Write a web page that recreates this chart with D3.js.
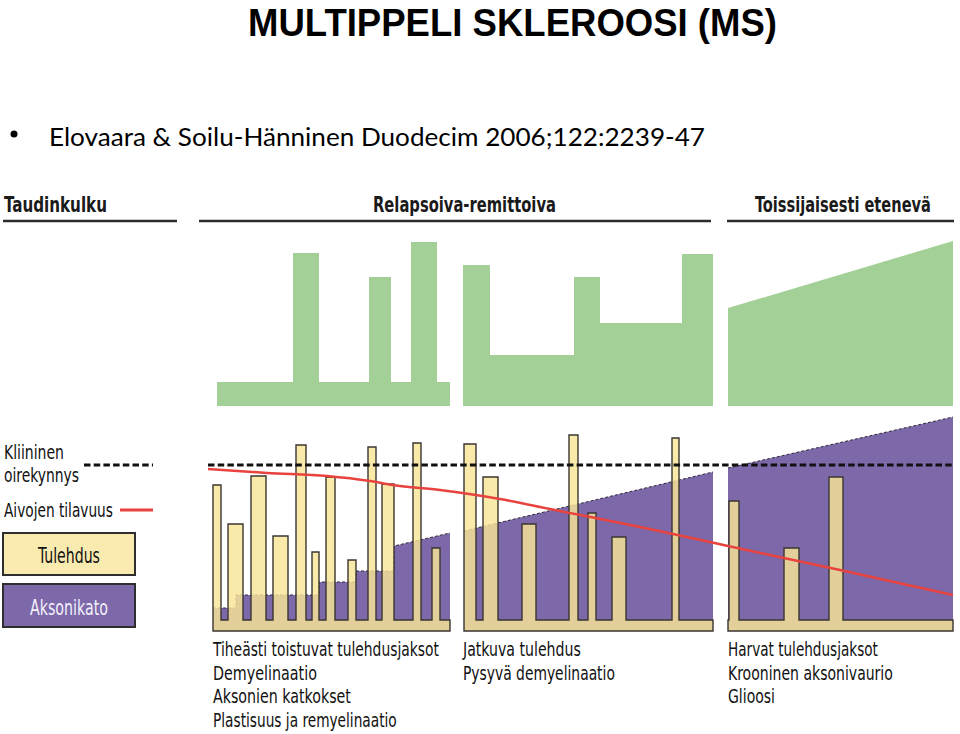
<!DOCTYPE html>
<html>
  <head>
    <meta charset="utf-8">
    <script src="https://d3js.org/d3.v7.min.js" type="text/javascript"></script>
    <style>
      body { margin: 0; background: #fff; }
      .narrow { font-family: 'Liberation Sans Narrow', 'DejaVu Sans Condensed', 'Arial Narrow', sans-serif; fill: #111; }
      .head { font-weight: bold; fill: #1a1a1a; }
    </style>
  </head>
  <body>
    <script>

      // time axis is arbitrary units (0 = start of the course)
      var sectionSpans = [[5, 242], [256, 505], [520, 745]];
      var stripLevel = 11;
      var thresholdLevel = 166;

      // inflammation episodes: [start, end, level]
      var barsRelapsing1 = [[5, 13, 146], [20, 35, 107], [43, 58, 155], [65, 80, 95], [88, 98, 186], [104, 111, 79],
                            [118, 127, 154], [140, 148, 71], [160, 168, 184], [174, 186, 147], [205, 213, 188], [224, 232, 83]];
      var barsRelapsing2 = [[256, 268, 187], [275, 290, 154], [314, 328, 107], [361, 370, 196], [380, 388, 118],
                            [404, 418, 94], [464, 471, 193]];
      var barsProgressive = [[521, 531, 130], [576, 591, 83], [621, 635, 154]];

      // axonal loss top boundary: [time, level]
      var axonRelapsing1 = [[5, 23], [28, 23], [28, 36], [111, 36], [111, 49], [148, 49], [148, 60], [186, 60], [186, 85], [242, 98]];
      var axonRelapsing2 = [[256, 100], [505, 159]];
      var axonProgressive = [[520, 163], [745, 214]];

      // brain volume
      var brainVolume = [[0, 162], [59, 158], [119, 155], [162, 150], [185, 146], [232, 141], [292, 132],
                         [342, 122], [465, 97], [520, 85], [632, 61], [745, 36]];

      // clinical activity (green): [start, end, level]
      var greenRelapsing1 = [[9, 85, 24], [85, 111, 153], [111, 161, 24], [161, 183, 129], [183, 203, 24], [203, 229, 164], [229, 242, 24]];
      var greenRelapsing2 = [[255, 282, 141], [282, 366, 51], [366, 392, 129], [392, 474, 83], [474, 505, 152]];
      var greenProgressive = [[520, 98], [745, 165]];

      var headers = [
        {text: "Taudinkulku", x: 4, len: 103, line: [3, 177]},
        {text: "Relapsoiva-remittoiva", x: 373, len: 183, line: [199, 711]},
        {text: "Toissijaisesti etenevä", x: 755, len: 176, line: [727, 954]}
      ];

      var notes = [
        {x: 213, lines: ["Tiheästi toistuvat tulehdusjaksot", "Demyelinaatio", "Aksonien katkokset", "Plastisuus ja remyelinaatio"], lens: [226, 104, 138, 184]},
        {x: 463, lines: ["Jatkuva tulehdus", "Pysyvä demyelinaatio"], lens: [118, 152]},
        {x: 728, lines: ["Harvat tulehdusjaksot", "Krooninen aksonivaurio", "Glioosi"], lens: [150, 165, 47]}
      ];

      var width = 960, height = 734;

      var x = d3.scaleLinear().domain([0, 745]).range([208, 953]);
      var yG = d3.scaleLinear().domain([0, 165]).range([406, 241]);
      var yL = d3.scaleLinear().domain([0, 214]).range([631, 417]);

      var svg = d3.select("body").append("svg")
          .attr("width", width)
          .attr("height", height);

      // condensed text: shrink the font to the wanted width, stretch it back up vertically
      function fitText(parent, cls, str, tx, ty, w, size) {
        var t = parent.append("text").attr("class", cls).style("font-size", size + "px").text(str);
        var fs = size * w / t.node().getComputedTextLength();
        t.style("font-size", fs + "px")
            .attr("transform", "translate(" + tx + "," + ty + ") scale(1," + (size / fs) + ")");
        return t;
      }

      // title
      svg.append("text")
          .attr("x", 248).attr("y", 36)
          .attr("textLength", 529).attr("lengthAdjust", "spacingAndGlyphs")
          .style("font-family", "'Liberation Sans', Arial, sans-serif")
          .style("font-weight", "bold").style("font-size", "39px")
          .text("MULTIPPELI SKLEROOSI (MS)");

      svg.append("circle").attr("cx", 14).attr("cy", 134).attr("r", 3.5).style("fill", "#000");
      svg.append("text")
          .attr("x", 49).attr("y", 146)
          .attr("textLength", 656).attr("lengthAdjust", "spacingAndGlyphs")
          .style("font-family", "Lato, 'Open Sans', sans-serif")
          .style("font-size", "25px")
          .text("Elovaara & Soilu-Hänninen Duodecim 2006;122:2239-47");

      // section headers
      headers.forEach(function(h) {
        fitText(svg, "narrow head", h.text, h.x, 212, h.len, 21);
        svg.append("line")
            .attr("x1", h.line[0]).attr("x2", h.line[1])
            .attr("y1", 221).attr("y2", 221)
            .style("stroke", "#2b2b2b").style("stroke-width", 2.5);
      });

      // green panel
      function stepPoints(segs) {
        var pts = [];
        segs.forEach(function(s) { pts.push([s[0], s[2]]); pts.push([s[1], s[2]]); });
        return pts;
      }
      var greenArea = d3.area()
          .x(function(d) { return x(d[0]); })
          .y0(yG(0))
          .y1(function(d) { return yG(d[1]); });

      svg.selectAll(".green")
          .data([stepPoints(greenRelapsing1), stepPoints(greenRelapsing2), greenProgressive])
          .enter().append("path")
          .attr("class", "green")
          .attr("d", greenArea)
          .style("fill", "#a3d096");

      // axonal loss
      var axonArea = d3.area()
          .x(function(d) { return x(d[0]); })
          .y0(yL(0))
          .y1(function(d) { return yL(d[1]); });
      var axonTop = d3.line()
          .x(function(d) { return x(d[0]); })
          .y(function(d) { return yL(d[1]); });
      var axonData = [axonRelapsing1, axonRelapsing2, axonProgressive];

      svg.selectAll(".axon")
          .data(axonData)
          .enter().append("path")
          .attr("class", "axon")
          .attr("d", axonArea)
          .style("fill", "#7d68aa");
      svg.selectAll(".axontop")
          .data(axonData)
          .enter().append("path")
          .attr("class", "axontop")
          .attr("d", axonTop)
          .style("fill", "none")
          .style("stroke", "#2e2a3a")
          .style("stroke-width", 1)
          .style("stroke-dasharray", "3,2");

      // inflammation: base strip + bars as one comb shape per section
      function combPath(span, bars) {
        var p = d3.path();
        p.moveTo(x(span[0]), yL(0));
        p.lineTo(x(span[0]), yL(stripLevel));
        bars.forEach(function(b) {
          p.lineTo(x(b[0]), yL(stripLevel));
          p.lineTo(x(b[0]), yL(b[2]));
          p.lineTo(x(b[1]), yL(b[2]));
          p.lineTo(x(b[1]), yL(stripLevel));
        });
        p.lineTo(x(span[1]), yL(stripLevel));
        p.lineTo(x(span[1]), yL(0));
        p.closePath();
        return p.toString();
      }
      var barSets = [barsRelapsing1, barsRelapsing2, barsProgressive];

      svg.selectAll(".comb")
          .data(sectionSpans)
          .enter().append("path")
          .attr("class", "comb")
          .attr("d", function(d, i) { return combPath(d, barSets[i]); })
          .style("fill", "#f9e596")
          .style("fill-opacity", 0.82)
          .style("stroke", "#3a3630")
          .style("stroke-width", 1.4)
          .style("stroke-linejoin", "miter");

      // clinical threshold
      svg.append("line")
          .attr("x1", x(0)).attr("x2", x(745))
          .attr("y1", yL(thresholdLevel)).attr("y2", yL(thresholdLevel))
          .style("stroke", "#111").style("stroke-width", 3)
          .style("stroke-dasharray", "6.5,3.2");

      // brain volume
      svg.append("path")
          .datum(brainVolume)
          .attr("d", d3.line()
              .curve(d3.curveMonotoneX)
              .x(function(d) { return x(d[0]); })
              .y(function(d) { return yL(d[1]); }))
          .style("fill", "none")
          .style("stroke", "#e8433e")
          .style("stroke-width", 2.5);

      // legend
      var leg = svg.append("g");
      fitText(leg, "narrow", "Kliininen", 4, 459, 60, 20);
      fitText(leg, "narrow", "oirekynnys", 4, 482, 75, 20);
      leg.append("line").attr("x1", 84).attr("x2", 153).attr("y1", 465).attr("y2", 465)
          .style("stroke", "#111").style("stroke-width", 3).style("stroke-dasharray", "6.5,3.2");
      fitText(leg, "narrow", "Aivojen tilavuus", 4, 517, 109, 20);
      leg.append("line").attr("x1", 120).attr("x2", 153).attr("y1", 510).attr("y2", 510)
          .style("stroke", "#e8433e").style("stroke-width", 3);

      leg.append("rect").attr("x", 3).attr("y", 533).attr("width", 132).attr("height", 42)
          .style("fill", "#f9ebb0").style("stroke", "#2e2e2e").style("stroke-width", 2);
      fitText(leg, "narrow", "Tulehdus", 38, 563, 62, 22);
      leg.append("rect").attr("x", 3).attr("y", 584).attr("width", 132).attr("height", 43)
          .style("fill", "#7d68aa").style("stroke", "#2e2e2e").style("stroke-width", 2);
      fitText(leg, "narrow", "Aksonikato", 30, 615, 78, 22).style("fill", "#f3f0fa");

      // notes under each phase
      notes.forEach(function(n) {
        n.lines.forEach(function(t, i) {
          fitText(svg, "narrow", t, n.x, 656 + i * 23.5, n.lens[i], 20);
        });
      });

    </script>
  </body>
</html>
